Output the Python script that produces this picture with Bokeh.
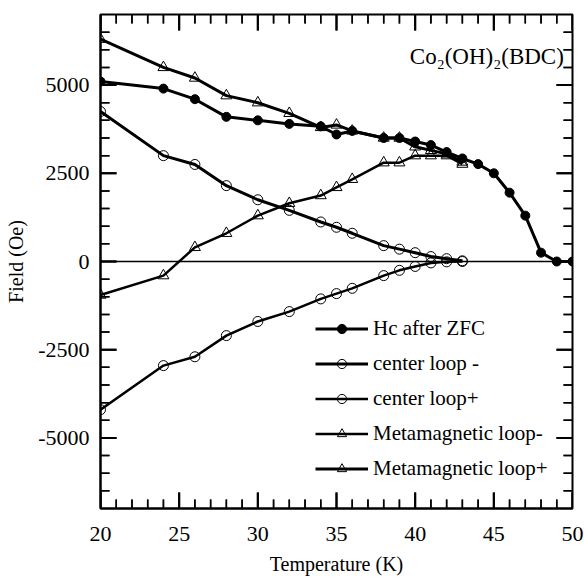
import math
from bokeh.plotting import figure
from bokeh.models import (Range1d, SingleIntervalTicker, Span, Label, CustomJSTickFormatter,
                          Arrow, ColumnDataSource)
from bokeh.embed import file_html
from bokeh.resources import INLINE

# ---- data ----
hc_T = [20, 24, 26, 28, 30, 32, 34, 35, 36, 38, 39, 40, 41, 42, 43, 44, 45, 46, 47, 48, 49, 50]
hc_F = [5100, 4900, 4600, 4100, 4000, 3900, 3830, 3600, 3700, 3500, 3500, 3400, 3300, 3100, 2920,
        2760, 2500, 1950, 1300, 250, 0, 0]

loop_T = [20, 24, 26, 28, 30, 32, 34, 35, 36, 38, 39, 40, 41, 42, 43]
center_minus = [4250, 3000, 2750, 2150, 1750, 1450, 1120, 970, 800, 450, 350, 250, 140, 80, 20]
center_plus = [-4200, -2950, -2700, -2100, -1700, -1420, -1060, -910, -760, -400, -250, -140, -40, -10, 0]
meta_minus = [-950, -400, 400, 800, 1300, 1650, 1870, 2100, 2330, 2800, 2800, 3000, 3000, 3000, 2760]
meta_plus = [6300, 5500, 5200, 4700, 4500, 4200, 3800, 3870, 3700, 3500, 3500, 3250, 3150, 3050, 2820]

x_min, x_max = 20.0, 50.0
y_min, y_max = -7000.0, 7000.0
x_major_step, x_minor_step = 5, 1
y_major_step, y_minor_step = 2500, 500

FONT = "Liberation Serif"
W, H = 584, 579
B_LEFT, B_RIGHT, B_TOP, B_BOTTOM = 100, 12, 14, 71

p = figure(width=W, height=H, x_range=Range1d(x_min, x_max), y_range=Range1d(y_min, y_max),
           output_backend="svg", toolbar_location=None,
           min_border_left=B_LEFT, min_border_right=B_RIGHT, min_border_top=B_TOP,
           min_border_bottom=B_BOTTOM)
p.xgrid.visible = False
p.ygrid.visible = False
p.outline_line_color = "black"
p.outline_line_width = 2
p.border_fill_color = "white"

# zero line
p.add_layout(Span(location=0, dimension="width", line_color="black", line_width=1.5))

# ---- inward ticks on all four sides ----
frame_w = W - B_LEFT - B_RIGHT
frame_h = H - B_TOP - B_BOTTOM
px_x = (x_max - x_min) / frame_w   # data units per pixel
px_y = (y_max - y_min) / frame_h
MAJ, MIN = 16, 9

x_all = [float(v) for v in range(int(x_min), int(x_max) + 1, x_minor_step)]
y_all = [float(v) for v in range(-6500, 6501, y_minor_step)]

def tick_coords(major):
    xs0, ys0, xs1, ys1 = [], [], [], []
    for v in x_all:
        is_major = (v % x_major_step == 0)
        if is_major != major:
            continue
        ln = (MAJ if major else MIN) * px_y
        xs0 += [v, v]; xs1 += [v, v]
        ys0 += [y_min, y_max]; ys1 += [y_min + ln, y_max - ln]
    for v in y_all:
        is_major = (v % y_major_step == 0)
        if is_major != major:
            continue
        ln = (MAJ if major else MIN) * px_x
        ys0 += [v, v]; ys1 += [v, v]
        xs0 += [x_min, x_max]; xs1 += [x_min + ln, x_max - ln]
    return xs0, ys0, xs1, ys1

for major, lw in ((True, 2), (False, 1.5)):
    xs0, ys0, xs1, ys1 = tick_coords(major)
    # as one broken polyline (NaN separated)
    lx, ly = [], []
    for a, b, c, d in zip(xs0, ys0, xs1, ys1):
        lx += [a, c, math.nan]
        ly += [b, d, math.nan]
    p.line(lx, ly, line_color="black", line_width=lw)
    # and as annotation arrows without heads
    src = ColumnDataSource(dict(x0=xs0, y0=ys0, x1=xs1, y1=ys1))
    p.add_layout(Arrow(start=None, end=None, x_start="x0", y_start="y0", x_end="x1", y_end="y1",
                       source=src, line_color="black", line_width=lw))

LW = 3
p.line(hc_T, hc_F, line_color="black", line_width=LW, legend_label="Hc after ZFC")
p.scatter(hc_T, hc_F, marker="circle", size=9, fill_color="black", line_color="black",
          legend_label="Hc after ZFC")

p.line(loop_T, center_minus, line_color="black", line_width=LW, legend_label="center loop -")
p.scatter(loop_T, center_minus, marker="circle", size=10, fill_color=None, line_color="black",
          line_width=1, legend_label="center loop -")

p.line(loop_T, center_plus, line_color="black", line_width=2.5, legend_label="center loop+")
p.scatter(loop_T, center_plus, marker="circle", size=10, fill_color=None, line_color="black",
          line_width=1, legend_label="center loop+")

p.line(loop_T, meta_minus, line_color="black", line_width=2.5, legend_label="Metamagnetic loop-")
p.scatter(loop_T, meta_minus, marker="triangle", size=11, fill_color=None, line_color="black",
          line_width=1, legend_label="Metamagnetic loop-")

p.line(loop_T, meta_plus, line_color="black", line_width=LW, legend_label="Metamagnetic loop+")
p.scatter(loop_T, meta_plus, marker="triangle", size=11, fill_color=None, line_color="black",
          line_width=1, legend_label="Metamagnetic loop+")

plain_fmt = CustomJSTickFormatter(code="return tick.toFixed(0);")

def style_axis(ax, step):
    ax.ticker = SingleIntervalTicker(interval=step)
    ax.axis_line_color = "black"
    ax.axis_line_width = 2
    ax.major_tick_in = 0
    ax.major_tick_out = 0
    ax.minor_tick_in = 0
    ax.minor_tick_out = 0
    ax.formatter = plain_fmt
    ax.major_label_text_font = FONT
    ax.major_label_text_font_size = "22px"
    ax.major_label_text_color = "black"
    ax.axis_label_text_font = FONT
    ax.axis_label_text_font_size = "20px"
    ax.axis_label_text_font_style = "normal"
    ax.axis_label_text_color = "black"

xa = p.xaxis[0]
style_axis(xa, x_major_step)
xa.major_label_standoff = 18
xa.axis_label = "Temperature (K)"
xa.axis_label_standoff = 9

ya = p.yaxis[0]
style_axis(ya, y_major_step)
ya.major_label_standoff = 11
ya.axis_label = "Field (Oe)"
ya.axis_label_standoff = 8

# compound label
p.add_layout(Label(x=49.45, y=5800, text="Co\u2082(OH)\u2082(BDC)", text_align="right",
                   text_baseline="alphabetic", text_font=FONT, text_font_size="23px",
                   text_color="black"))

lg = p.legend[0]
lg.location = (215, 27)
lg.border_line_alpha = 0
lg.background_fill_alpha = 0
lg.padding = 0
lg.margin = 0
lg.spacing = 10
lg.glyph_width = 53
lg.glyph_height = 23
lg.label_height = 23
lg.label_standoff = 5
lg.label_text_font = FONT
lg.label_text_font_size = "21px"
lg.label_text_color = "black"

open("out.html", "w").write(file_html(p, INLINE))
